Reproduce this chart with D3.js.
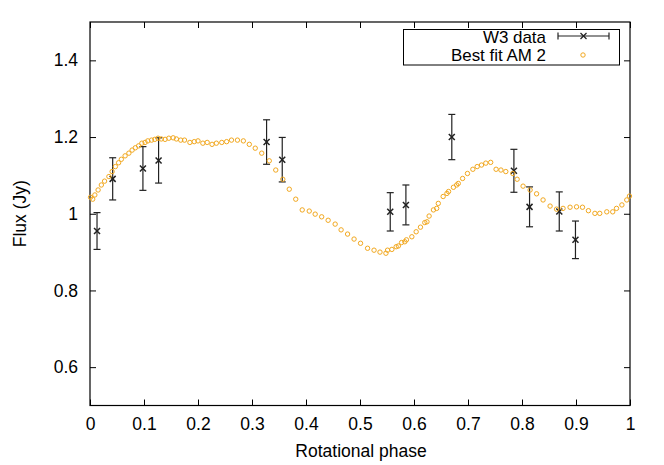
<!DOCTYPE html>
<html>
<head>
<meta charset="utf-8">
<script src="https://d3js.org/d3.v7.min.js"></script>
<style>
  body { margin: 0; background: #fff; }
  svg text { font-family: "Liberation Sans", Arial, sans-serif; fill: #000; }
</style>
</head>
<body>
<div id="chart"></div>
<script>
// W3 measurements (phase, flux, error)
const w3Phase = [0.013, 0.042, 0.098, 0.127, 0.327, 0.356, 0.556, 0.585, 0.670, 0.785, 0.814, 0.869, 0.899];
const w3Flux  = [0.955, 1.091, 1.118, 1.139, 1.187, 1.141, 1.005, 1.023, 1.200, 1.112, 1.018, 1.006, 0.932];
const w3Err   = [0.048, 0.055, 0.057, 0.059, 0.058, 0.058, 0.050, 0.052, 0.059, 0.056, 0.052, 0.051, 0.049];

// Best fit model points
const fitPhase = [
  0.001, 0.005, 0.009, 0.015, 0.021, 0.027, 0.035, 0.041, 0.047, 0.053,
  0.058, 0.065, 0.072, 0.078, 0.084, 0.090, 0.096, 0.102, 0.107, 0.114,
  0.120, 0.126, 0.132, 0.139, 0.146, 0.154, 0.160, 0.168, 0.175, 0.185,
  0.193, 0.200, 0.209, 0.217, 0.226, 0.234, 0.244, 0.253, 0.262, 0.273,
  0.284, 0.295, 0.306, 0.318, 0.332, 0.344, 0.357, 0.369, 0.381, 0.393,
  0.406, 0.417, 0.429, 0.441, 0.454, 0.465, 0.477, 0.489, 0.501, 0.514,
  0.526, 0.537, 0.548, 0.551, 0.559, 0.567, 0.571, 0.577, 0.583, 0.586,
  0.596, 0.604, 0.612, 0.620, 0.624, 0.628, 0.636, 0.642, 0.645, 0.654,
  0.661, 0.664, 0.673, 0.679, 0.682, 0.690, 0.699, 0.709, 0.717, 0.725,
  0.733, 0.742, 0.752, 0.761, 0.770, 0.783, 0.791, 0.802, 0.815, 0.827,
  0.839, 0.852, 0.864, 0.876, 0.889, 0.901, 0.912, 0.923, 0.935, 0.944,
  0.957, 0.968, 0.975, 0.985, 0.994, 0.999
];
const fitFlux = [
  1.043, 1.038, 1.049, 1.062, 1.075, 1.085, 1.097, 1.110, 1.123, 1.133,
  1.142, 1.151, 1.158, 1.166, 1.172, 1.177, 1.184, 1.186, 1.190, 1.192,
  1.194, 1.197, 1.195, 1.194, 1.197, 1.198, 1.195, 1.192, 1.192, 1.186,
  1.188, 1.190, 1.184, 1.186, 1.181, 1.184, 1.186, 1.188, 1.192, 1.192,
  1.190, 1.181, 1.171, 1.158, 1.138, 1.114, 1.090, 1.064, 1.038, 1.010,
  1.007, 0.999, 0.992, 0.983, 0.973, 0.958, 0.947, 0.934, 0.923, 0.910,
  0.905, 0.900, 0.897, 0.905, 0.907, 0.914, 0.916, 0.925, 0.927, 0.932,
  0.940, 0.953, 0.965, 0.977, 0.979, 0.994, 1.010, 1.014, 1.027, 1.045,
  1.053, 1.058, 1.069, 1.075, 1.079, 1.092, 1.105, 1.116, 1.123, 1.127,
  1.132, 1.134, 1.116, 1.114, 1.110, 1.105, 1.090, 1.072, 1.062, 1.052,
  1.036, 1.020, 1.012, 1.014, 1.017, 1.018, 1.017, 1.008, 1.001, 1.001,
  1.005, 1.005, 1.014, 1.023, 1.036, 1.046
];

const xTicks = [0, 0.1, 0.2, 0.3, 0.4, 0.5, 0.6, 0.7, 0.8, 0.9, 1];
const yTicks = [0.6, 0.8, 1, 1.2, 1.4];

const width = 664, height = 465;
const plotL = 90, plotR = 630, plotT = 22, plotB = 405.5;
const fitColor = "#f2a81f";

const svg = d3.select('#chart').append('svg')
    .attr('width', width)
    .attr('height', height);

const x = d3.scaleLinear().domain([0, 1]).range([plotL, plotR]);
const y = d3.scaleLinear().domain([0.5, 1.5]).range([plotB, plotT]);

// axes, ticks pointing inward, mirrored on top/right
const fontSize = 17.5;
svg.append('g')
    .attr('transform', `translate(0,${plotB})`)
    .call(d3.axisBottom(x).tickValues(xTicks).tickSizeInner(-6).tickSizeOuter(0).tickPadding(12).tickFormat(d3.format('')))
    .call(g => g.select('.domain').remove())
    .call(g => g.selectAll('text').style('font-size', fontSize + 'px'));
svg.append('g')
    .attr('transform', `translate(0,${plotT})`)
    .call(d3.axisTop(x).tickValues(xTicks).tickSizeInner(-6).tickSizeOuter(0).tickFormat(''))
    .call(g => g.select('.domain').remove());
svg.append('g')
    .attr('transform', `translate(${plotL},0)`)
    .call(d3.axisLeft(y).tickValues(yTicks).tickSizeInner(-6).tickSizeOuter(0).tickPadding(12).tickFormat(d3.format('')))
    .call(g => g.select('.domain').remove())
    .call(g => g.selectAll('text').style('font-size', fontSize + 'px'));
svg.append('g')
    .attr('transform', `translate(${plotR},0)`)
    .call(d3.axisRight(y).tickValues(yTicks).tickSizeInner(-6).tickSizeOuter(0).tickFormat(''))
    .call(g => g.select('.domain').remove());

svg.append('rect')
    .attr('x', plotL).attr('y', plotT)
    .attr('width', plotR - plotL).attr('height', plotB - plotT)
    .attr('fill', 'none').attr('stroke', '#000').attr('stroke-width', 1.2);

// axis titles
svg.append('text')
    .attr('x', (plotL + plotR) / 2 + 1).attr('y', 457)
    .attr('text-anchor', 'middle')
    .style('font-size', fontSize + 'px')
    .text('Rotational phase');
svg.append('text')
    .attr('transform', `translate(26,${(plotT + plotB) / 2}) rotate(-90)`)
    .attr('text-anchor', 'middle')
    .style('font-size', fontSize + 'px')
    .text('Flux (Jy)');

// W3 data with error bars
const w3 = w3Phase.map((p, i) => ({p: p, f: w3Flux[i], e: w3Err[i]}));
const cap = 3.5, cross = 3;
const eb = svg.append('g').attr('stroke', '#222').attr('stroke-width', 1.2);
w3.forEach(d => {
    const cx = x(d.p), y1 = y(d.f + d.e), y2 = y(d.f - d.e), cy = y(d.f);
    eb.append('line').attr('x1', cx).attr('x2', cx).attr('y1', y1).attr('y2', y2);
    eb.append('line').attr('x1', cx - cap).attr('x2', cx + cap).attr('y1', y1).attr('y2', y1);
    eb.append('line').attr('x1', cx - cap).attr('x2', cx + cap).attr('y1', y2).attr('y2', y2);
    eb.append('line').attr('x1', cx - cross).attr('x2', cx + cross).attr('y1', cy - cross).attr('y2', cy + cross).attr('stroke-width', 1.5);
    eb.append('line').attr('x1', cx - cross).attr('x2', cx + cross).attr('y1', cy + cross).attr('y2', cy - cross).attr('stroke-width', 1.5);
});

// best fit points
svg.append('g').selectAll('circle')
    .data(fitPhase.map((p, i) => [p, fitFlux[i]]))
    .join('circle')
    .attr('cx', d => x(d[0]))
    .attr('cy', d => y(d[1]))
    .attr('r', 2.2)
    .attr('fill', 'none')
    .attr('stroke', fitColor)
    .attr('stroke-width', 1);

// legend
const legendFont = 16;
const lg = svg.append('g');
lg.append('rect')
    .attr('x', 403.5).attr('y', 29.5).attr('width', 216).attr('height', 35.5)
    .attr('fill', '#fff').attr('stroke', '#000').attr('stroke-width', 1);
lg.append('text').attr('x', 546).attr('y', 42.5).attr('text-anchor', 'end')
    .style('font-size', legendFont + 'px').style('font-size-adjust', '0.56').text('W3 data');
lg.append('text').attr('x', 546).attr('y', 61).attr('text-anchor', 'end')
    .style('font-size', legendFont + 'px').style('font-size-adjust', '0.56').text('Best fit AM 2');
const ls = lg.append('g').attr('stroke', '#222').attr('stroke-width', 1.2);
ls.append('line').attr('x1', 558).attr('x2', 609).attr('y1', 36).attr('y2', 36);
ls.append('line').attr('x1', 558).attr('x2', 558).attr('y1', 32.5).attr('y2', 39.5);
ls.append('line').attr('x1', 609).attr('x2', 609).attr('y1', 32.5).attr('y2', 39.5);
ls.append('line').attr('x1', 583.5 - cross).attr('x2', 583.5 + cross).attr('y1', 36 - cross).attr('y2', 36 + cross);
ls.append('line').attr('x1', 583.5 - cross).attr('x2', 583.5 + cross).attr('y1', 36 + cross).attr('y2', 36 - cross);
lg.append('circle').attr('cx', 583).attr('cy', 55).attr('r', 2.2)
    .attr('fill', 'none').attr('stroke', fitColor).attr('stroke-width', 1);
</script>
</body>
</html>
